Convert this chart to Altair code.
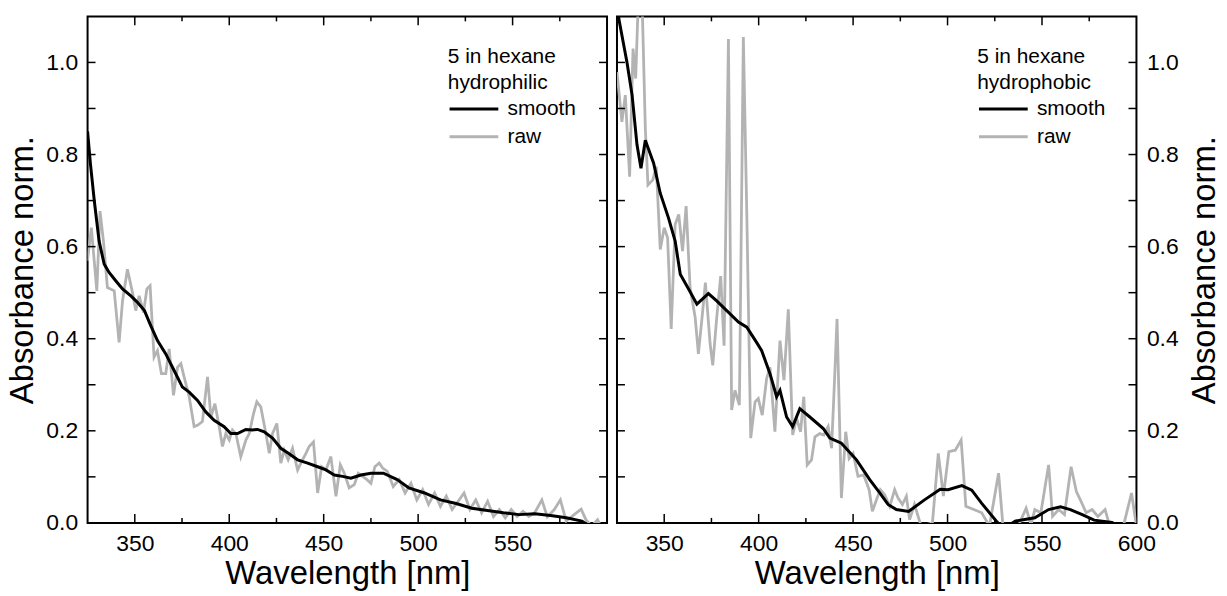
import altair as alt
import pandas as pd

# ---------------- data ----------------
L_SMOOTH_X = [325, 326.5, 328.6, 331.1, 333.8, 336.4, 339.9, 343.5, 347.9, 351.4, 355.1, 358.5, 362, 366.4,
              370.8, 375.2, 378.8, 383.2, 387.6, 392, 397.3, 400.8, 404.4, 408.8, 412.3, 415, 418.5, 422.9,
              427.3, 431.7, 436.2, 441.5, 446.8, 451.2, 455.6, 460, 464.4, 469.7, 475, 481.6, 488.9, 495.1,
              503.4, 511.8, 520.1, 528.4, 536.7, 545.1, 553.4, 561.7, 570.1, 578.4, 586.7, 590]
L_SMOOTH_Y = [0.85, 0.78, 0.698, 0.612, 0.562, 0.544, 0.526, 0.508, 0.493, 0.479, 0.461, 0.428, 0.396, 0.367,
              0.331, 0.295, 0.284, 0.266, 0.241, 0.223, 0.209, 0.194, 0.194, 0.203, 0.202, 0.203, 0.198, 0.184,
              0.162, 0.150, 0.137, 0.130, 0.122, 0.115, 0.104, 0.101, 0.097, 0.104, 0.108, 0.108, 0.094, 0.076,
              0.065, 0.050, 0.042, 0.032, 0.027, 0.022, 0.018, 0.020, 0.016, 0.011, 0.004, -0.005]

L_RAW_X = [324.9, 327.0, 329.9, 331.6, 333.4, 335.5, 339.1, 341.7, 343.5, 346.1, 348.8, 350.5, 352.3, 354.6,
           356.4, 358.1, 360.2, 362.0, 364.1, 366.4, 368.2, 370.5, 372.6, 374.4, 376.1, 378.8, 381.4, 383.2,
           385.8, 388.5, 390.3, 392.4, 394.7, 396.4, 398.2, 400.0, 401.7, 403.5, 406.1, 408.8, 410.6, 412.9,
           414.6, 416.7, 419.4, 421.2, 422.9, 425.2, 427.3, 429.1, 431.2, 433.5, 436.2, 437.9, 440.6, 442.3,
           444.6, 446.8, 448.9, 451.2, 453.8, 456.5, 458.8, 460.9, 463.5, 466.2, 468.3, 470.6, 472.9, 475.0,
           477.1, 479.4, 481.2, 483.7, 486.8, 490.0, 493.1, 496.2, 499.3, 502.4, 505.5, 508.7, 511.8, 514.9,
           518.0, 521.2, 524.3, 527.4, 530.5, 533.6, 536.8, 539.9, 543.0, 546.1, 549.3, 552.4, 555.5, 558.6,
           561.7, 565.5, 568.4, 572.1, 575.3, 578.4, 582.6, 586.3, 588.8, 591.9, 595.0, 597.1]
L_RAW_Y = [0.569, 0.641, 0.504, 0.677, 0.612, 0.511, 0.504, 0.392, 0.482, 0.551, 0.500, 0.461, 0.493, 0.457,
           0.508, 0.515, 0.360, 0.374, 0.324, 0.324, 0.378, 0.277, 0.338, 0.346, 0.317, 0.274, 0.209, 0.212,
           0.220, 0.317, 0.230, 0.259, 0.209, 0.166, 0.194, 0.180, 0.202, 0.194, 0.144, 0.180, 0.194, 0.238,
           0.263, 0.252, 0.194, 0.151, 0.194, 0.216, 0.130, 0.158, 0.137, 0.162, 0.115, 0.130, 0.151, 0.166,
           0.176, 0.065, 0.122, 0.115, 0.144, 0.058, 0.126, 0.108, 0.076, 0.083, 0.108, 0.101, 0.094, 0.086,
           0.122, 0.130, 0.119, 0.112, 0.079, 0.094, 0.065, 0.086, 0.050, 0.072, 0.040, 0.065, 0.036, 0.058,
           0.029, 0.047, 0.065, 0.029, 0.050, 0.022, 0.047, 0.014, 0.029, 0.011, 0.029, 0.014, 0.025, 0.014,
           0.022, 0.050, 0.013, 0.029, 0.050, 0.004, 0.018, 0.030, 0.007, -0.007, 0.007, -0.011]

R_SMOOTH_X = [325.0, 326.0, 330.3, 333.0, 335.6, 337.7, 340.0, 344.4, 347.9, 352.3, 355.8, 358.5, 362.9, 367.3,
              373.4, 377.8, 383.1, 389.3, 393.7, 398.9, 401.6, 406.0, 409.5, 411.3, 414.8, 418.0, 421.8, 427.1,
              434.2, 437.7, 443.8, 451.8, 458.8, 464.1, 468.5, 472.9, 479.4, 487.8, 496.1, 500.3, 507.6, 512.8,
              518.0, 526.4, 530.0, 535.8, 546.2, 553.5, 559.8, 565.0, 571.3, 577.6, 587.0, 590.0]
R_SMOOTH_Y = [1.13, 1.094, 1.000, 0.929, 0.821, 0.770, 0.831, 0.781, 0.716, 0.662, 0.612, 0.540, 0.508, 0.475,
              0.498, 0.482, 0.461, 0.436, 0.425, 0.392, 0.374, 0.324, 0.274, 0.288, 0.230, 0.209, 0.248, 0.230,
              0.205, 0.184, 0.173, 0.137, 0.094, 0.065, 0.040, 0.029, 0.025, 0.050, 0.073, 0.072, 0.081, 0.071,
              0.043, 0.001, -0.012, 0.004, 0.011, 0.029, 0.035, 0.029, 0.018, 0.006, 0.001, -0.005]

R_RAW_X = [325.0, 327.6, 329.4, 331.7, 333.5, 334.9, 336.4, 338.2, 340.0, 341.4, 344.0, 345.8, 347.9, 350.0,
           351.8, 353.7, 355.8, 357.7, 359.7, 361.6, 363.7, 366.4, 368.1, 370.4, 371.8, 374.3, 375.7, 377.8,
           379.9, 381.7, 384.0, 385.7, 387.5, 389.8, 391.9, 393.7, 395.8, 398.1, 399.8, 401.9, 404.2, 406.0,
           408.6, 411.3, 413.4, 415.7, 418.0, 420.1, 422.2, 423.9, 425.7, 428.0, 429.8, 432.4, 434.5, 436.8,
           438.6, 439.8, 441.5, 443.8, 446.1, 447.9, 450.0, 452.6, 455.6, 458.5, 460.2, 462.7, 464.4, 466.7,
           469.4, 472.0, 473.8, 476.1, 478.2, 479.9, 482.5, 486.0, 492.0, 495.1, 497.8, 500.7, 504.1, 507.2,
           509.7, 513.9, 518.1, 522.2, 527.0, 529.5, 535.8, 541.6, 544.2, 546.2, 549.4, 553.5, 555.6, 558.8,
           561.9, 565.4, 568.2, 570.3, 573.4, 576.5, 579.6, 583.4, 585.9, 592.2, 597.4, 600.0]
R_RAW_Y = [0.979, 0.871, 0.929, 0.752, 1.030, 0.965, 1.15, 1.15, 0.857, 0.734, 0.745, 0.774, 0.594, 0.641,
           0.619, 0.421, 0.648, 0.670, 0.590, 0.688, 0.511, 0.446, 0.367, 0.461, 0.522, 0.389, 0.342, 0.446,
           0.536, 0.385, 1.051, 0.245, 0.288, 0.256, 1.055, 0.677, 0.184, 0.263, 0.270, 0.234, 0.313, 0.338,
           0.198, 0.396, 0.310, 0.464, 0.191, 0.227, 0.198, 0.274, 0.126, 0.137, 0.187, 0.194, 0.191, 0.209,
           0.162, 0.274, 0.443, 0.054, 0.198, 0.140, 0.151, 0.101, 0.104, 0.072, 0.025, 0.054, 0.072, 0.061,
           0.036, 0.072, 0.054, 0.040, 0.058, 0.007, 0.040, -0.007, 0.000, 0.151, 0.058, 0.155, 0.158, 0.180,
           0.036, 0.029, 0.022, -0.007, 0.108, -0.014, -0.022, 0.032, -0.004, 0.029, 0.022, 0.126, 0.014, 0.029,
           0.018, 0.122, 0.068, 0.050, 0.022, 0.029, 0.014, 0.029, -0.007, -0.022, 0.065, -0.007]

SERIES = ["smooth", "raw"]
COLORS = ["#000000", "#b3b3b3"]
LEFT_TITLE = ["5 in hexane", "hydrophilic"]
RIGHT_TITLE = ["5 in hexane", "hydrophobic"]

X_DOMAIN = [325, 600]
Y_DOMAIN = [0, 1.1]
LEFT_X_LABELS = [350, 400, 450, 500, 550]
RIGHT_X_LABELS = [350, 400, 450, 500, 550, 600]
X_MAJOR = [350, 400, 450, 500, 550]
X_MINOR = [375, 425, 475, 525, 575]
Y_LABELS = [0.0, 0.2, 0.4, 0.6, 0.8, 1.0]
Y_TICKS = [0.1, 0.2, 0.3, 0.4, 0.5, 0.6, 0.7, 0.8, 0.9, 1.0]

# ---------------- styling ----------------
W, H = 522, 509
FONT = "Liberation Sans"
LABEL_FS = 23
TITLE_FS = 33


def make_panel(sx, sy, rx, ry, legend_title, y_orient, x_labels):
    x_axis = alt.Axis(values=x_labels, format="d", title="Wavelength [nm]", ticks=False, domain=False,
                      grid=False, labelFont=FONT, labelFontSize=LABEL_FS, labelColor="black",
                      labelPadding=10, labelFlush=False, titleFont=FONT, titleFontSize=TITLE_FS,
                      titleFontWeight="normal", titleColor="black", titlePadding=2)
    y_axis = alt.Axis(values=Y_LABELS, format=".1f", title="Absorbance norm.", orient=y_orient,
                      ticks=False, domain=False, grid=False, labelFont=FONT, labelFontSize=LABEL_FS,
                      labelColor="black", labelPadding=10, titleFont=FONT, titleFontSize=TITLE_FS,
                      titleFontWeight="normal", titleColor="black",
                      titlePadding=(6 if y_orient == "left" else 10),
                      titleAngle=270, titleBaseline=("bottom" if y_orient == "left" else "top"))
    xs = alt.Scale(domain=X_DOMAIN, nice=False, zero=False)
    ys = alt.Scale(domain=Y_DOMAIN, nice=False, zero=False)

    def X():
        return alt.X("wavelength:Q", scale=xs, axis=x_axis)

    def Y():
        return alt.Y("absorbance:Q", scale=ys, axis=y_axis)

    color = alt.Color("series:N", scale=alt.Scale(domain=SERIES, range=COLORS),
                      legend=alt.Legend(title=legend_title, orient="none", legendX=362, legendY=30,
                                        titleFont=FONT, titleFontSize=21, titleFontWeight="normal",
                                        titleColor="black", titleLineHeight=26, titlePadding=2,
                                        labelFont=FONT, labelFontSize=21, labelColor="black",
                                        labelOffset=32, symbolType="M-1,0H3", symbolSize=600,
                                        symbolStrokeWidth=3, rowPadding=4, padding=0))

    smooth_df = pd.DataFrame({"wavelength": sx, "absorbance": sy, "series": "smooth"})
    raw_df = pd.DataFrame({"wavelength": rx, "absorbance": ry, "series": "raw"})

    raw = alt.Chart(raw_df).mark_line(strokeWidth=2.8, clip=True).encode(x=X(), y=Y(), color=color)
    smooth = alt.Chart(smooth_df).mark_line(strokeWidth=3, clip=True).encode(x=X(), y=Y(), color=color)

    xmaj = pd.DataFrame({"wavelength": X_MAJOR})
    xmin = pd.DataFrame({"wavelength": X_MINOR})
    yt = pd.DataFrame({"absorbance": Y_TICKS})
    rule = dict(color="black", strokeWidth=1.5)
    t1 = alt.Chart(xmaj).mark_rule(**rule).encode(x=X(), y=alt.value(H), y2=alt.value(H - 9))
    t2 = alt.Chart(xmaj).mark_rule(**rule).encode(x=X(), y=alt.value(0), y2=alt.value(9))
    t3 = alt.Chart(xmin).mark_rule(**rule).encode(x=X(), y=alt.value(H), y2=alt.value(H - 5))
    t4 = alt.Chart(xmin).mark_rule(**rule).encode(x=X(), y=alt.value(0), y2=alt.value(5))
    t5 = alt.Chart(yt).mark_rule(**rule).encode(y=Y(), x=alt.value(0), x2=alt.value(8))
    t6 = alt.Chart(yt).mark_rule(**rule).encode(y=Y(), x=alt.value(W), x2=alt.value(W - 8))

    return alt.layer(raw, smooth, t1, t2, t3, t4, t5, t6).properties(width=W, height=H)


left = make_panel(L_SMOOTH_X, L_SMOOTH_Y, L_RAW_X, L_RAW_Y, LEFT_TITLE, "left", LEFT_X_LABELS)
right = make_panel(R_SMOOTH_X, R_SMOOTH_Y, R_RAW_X, R_RAW_Y, RIGHT_TITLE, "right", RIGHT_X_LABELS)

chart = (
    alt.hconcat(left, right, spacing=6)
    .resolve_scale(color="independent")
    .configure_view(stroke="black", strokeWidth=2)
    .properties(padding={"left": 6, "top": 13, "right": 5, "bottom": 5}, background="white")
)

chart.save("out.html", embed_options={"renderer": "svg", "actions": False})
